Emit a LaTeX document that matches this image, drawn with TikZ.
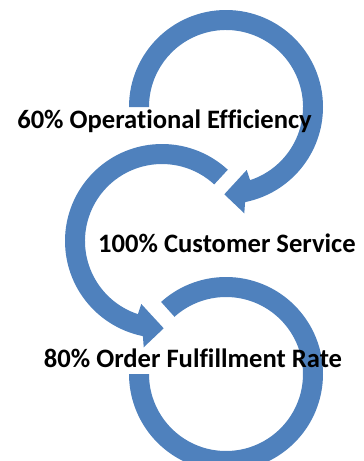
\documentclass[tikz,border=0pt]{standalone}
\usepackage{fontspec}
\setmainfont{Carlito}[Ligatures=NoCommon]
\definecolor{arcblue}{HTML}{4F81BD}
\tikzset{
  arcshape/.style={fill=arcblue,draw=none},
  lbl/.style={font=\fontsize{26.6}{31}\selectfont\bfseries, inner sep=0pt, anchor=base, text=black}
}
\begin{document}
\begin{tikzpicture}[x=1pt,y=-1pt]
\useasboundingbox (0,0) rectangle (364,461);
\clip (0,0) rectangle (364,461);
% arc 1 (top)
\fill[arcshape, shift={(226,107)}] (180:97) arc[start angle=180, end angle=438.65, radius=97]
  -- (18.3,106.3) -- (-1.7,87.3) -- (20.7,63) -- (431.8:77)
  arc[start angle=431.8, end angle=180, radius=77] -- cycle;
% arc 2 (middle)
\fill[arcshape, shift={(162,241)}] (312.7:97) arc[start angle=312.7, end angle=101.35, radius=97]
  -- (-18.3,106.3) -- (1.7,87.3) -- (-20.7,63) -- (108.2:77)
  arc[start angle=108.2, end angle=312.7, radius=77] -- cycle;
% arc 3 (bottom)
\fill[arcshape, shift={(226,374)}] (228:97) arc[start angle=228, end angle=540, radius=97]
  -- (540:77) arc[start angle=540, end angle=228, radius=77] -- cycle;
% labels
\node[lbl] (t1) at (164.5,128) {60\% Operational Efficiency};
\node[lbl] (t2) at (227,252.7) {100\% Customer Service};
\node[lbl] (t3) at (193,367.7) {80\% Order Fulfillment Rate};
\end{tikzpicture}
\end{document}
